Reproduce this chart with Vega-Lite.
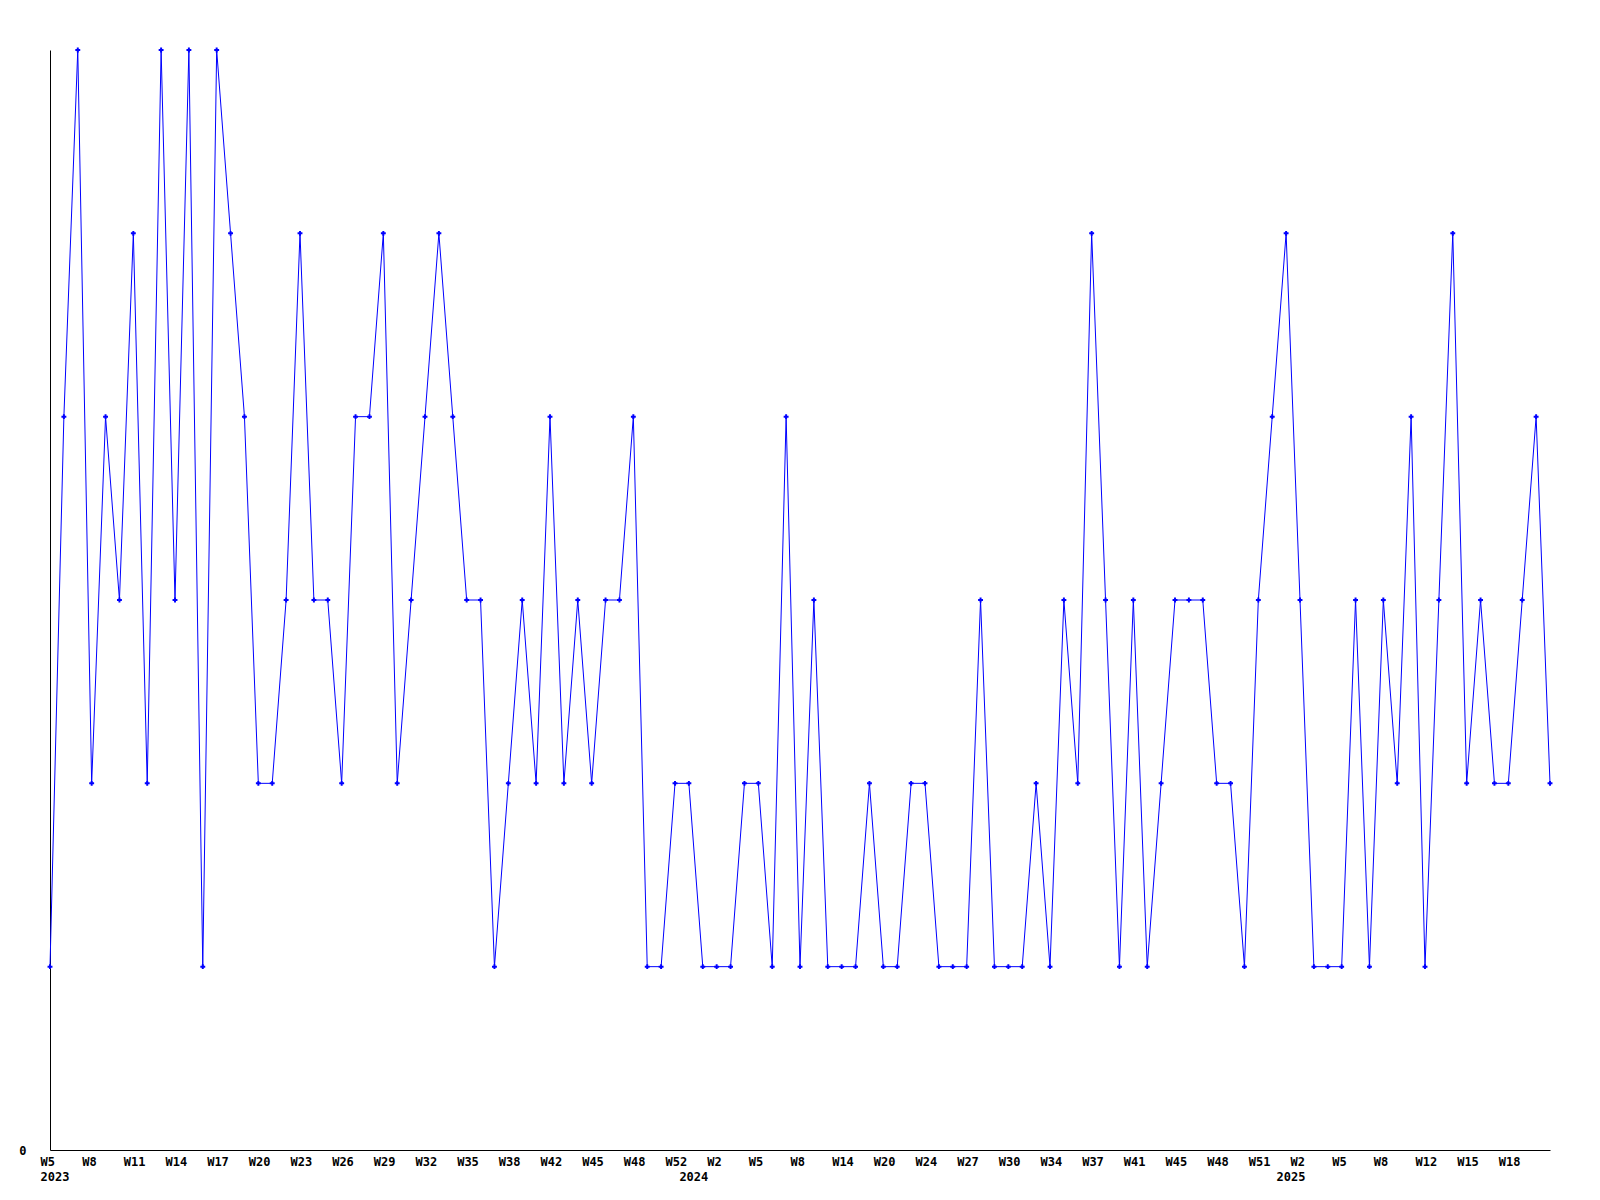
{
  "$schema": "https://vega.github.io/schema/vega-lite/v6.json",
  "autosize": {"type": "none"},
  "padding": {"left": 50, "top": 50, "right": 50, "bottom": 50},
  "width": 1500,
  "height": 1100,
  "background": "white",
  "config": {"view": {"stroke": null}},
  "data": {"values": [
    {"week": "2023-W05", "count": 1}, {"week": "2023-W06", "count": 4}, {"week": "2023-W07", "count": 6}, {"week": "2023-W08", "count": 2},
    {"week": "2023-W09", "count": 4}, {"week": "2023-W10", "count": 3}, {"week": "2023-W11", "count": 5}, {"week": "2023-W12", "count": 2},
    {"week": "2023-W13", "count": 6}, {"week": "2023-W14", "count": 3}, {"week": "2023-W15", "count": 6}, {"week": "2023-W16", "count": 1},
    {"week": "2023-W17", "count": 6}, {"week": "2023-W18", "count": 5}, {"week": "2023-W19", "count": 4}, {"week": "2023-W20", "count": 2},
    {"week": "2023-W21", "count": 2}, {"week": "2023-W22", "count": 3}, {"week": "2023-W23", "count": 5}, {"week": "2023-W24", "count": 3},
    {"week": "2023-W25", "count": 3}, {"week": "2023-W26", "count": 2}, {"week": "2023-W27", "count": 4}, {"week": "2023-W28", "count": 4},
    {"week": "2023-W29", "count": 5}, {"week": "2023-W30", "count": 2}, {"week": "2023-W31", "count": 3}, {"week": "2023-W32", "count": 4},
    {"week": "2023-W33", "count": 5}, {"week": "2023-W34", "count": 4}, {"week": "2023-W35", "count": 3}, {"week": "2023-W36", "count": 3},
    {"week": "2023-W37", "count": 1}, {"week": "2023-W38", "count": 2}, {"week": "2023-W39", "count": 3}, {"week": "2023-W40", "count": 2},
    {"week": "2023-W42", "count": 4}, {"week": "2023-W43", "count": 2}, {"week": "2023-W44", "count": 3}, {"week": "2023-W45", "count": 2},
    {"week": "2023-W46", "count": 3}, {"week": "2023-W47", "count": 3}, {"week": "2023-W48", "count": 4}, {"week": "2023-W49", "count": 1},
    {"week": "2023-W50", "count": 1}, {"week": "2023-W52", "count": 2}, {"week": "2024-W00", "count": 2}, {"week": "2024-W01", "count": 1},
    {"week": "2024-W02", "count": 1}, {"week": "2024-W03", "count": 1}, {"week": "2024-W04", "count": 2}, {"week": "2024-W05", "count": 2},
    {"week": "2024-W06", "count": 1}, {"week": "2024-W07", "count": 4}, {"week": "2024-W08", "count": 1}, {"week": "2024-W10", "count": 3},
    {"week": "2024-W12", "count": 1}, {"week": "2024-W14", "count": 1}, {"week": "2024-W16", "count": 1}, {"week": "2024-W18", "count": 2},
    {"week": "2024-W20", "count": 1}, {"week": "2024-W21", "count": 1}, {"week": "2024-W23", "count": 2}, {"week": "2024-W24", "count": 2},
    {"week": "2024-W25", "count": 1}, {"week": "2024-W26", "count": 1}, {"week": "2024-W27", "count": 1}, {"week": "2024-W28", "count": 3},
    {"week": "2024-W29", "count": 1}, {"week": "2024-W30", "count": 1}, {"week": "2024-W31", "count": 1}, {"week": "2024-W32", "count": 2},
    {"week": "2024-W34", "count": 1}, {"week": "2024-W35", "count": 3}, {"week": "2024-W36", "count": 2}, {"week": "2024-W37", "count": 5},
    {"week": "2024-W38", "count": 3}, {"week": "2024-W40", "count": 1}, {"week": "2024-W41", "count": 3}, {"week": "2024-W42", "count": 1},
    {"week": "2024-W43", "count": 2}, {"week": "2024-W45", "count": 3}, {"week": "2024-W46", "count": 3}, {"week": "2024-W47", "count": 3},
    {"week": "2024-W48", "count": 2}, {"week": "2024-W49", "count": 2}, {"week": "2024-W50", "count": 1}, {"week": "2024-W51", "count": 3},
    {"week": "2024-W52", "count": 4}, {"week": "2025-W01", "count": 5}, {"week": "2025-W02", "count": 3}, {"week": "2025-W03", "count": 1},
    {"week": "2025-W04", "count": 1}, {"week": "2025-W05", "count": 1}, {"week": "2025-W06", "count": 3}, {"week": "2025-W07", "count": 1},
    {"week": "2025-W08", "count": 3}, {"week": "2025-W10", "count": 2}, {"week": "2025-W11", "count": 4}, {"week": "2025-W12", "count": 1},
    {"week": "2025-W13", "count": 3}, {"week": "2025-W14", "count": 5}, {"week": "2025-W15", "count": 2}, {"week": "2025-W16", "count": 3},
    {"week": "2025-W17", "count": 2}, {"week": "2025-W18", "count": 2}, {"week": "2025-W19", "count": 3}, {"week": "2025-W20", "count": 4},
    {"week": "2025-W21", "count": 2}
  ]},
  "encoding": {
    "x": {
      "field": "week", "type": "ordinal", "sort": null,
      "scale": {"type": "point", "padding": 0},
      "axis": {
        "title": null, "ticks": false, "grid": false,
        "domainColor": "black", "domainWidth": 1,
        "labelAngle": 0, "labelAlign": "left", "labelOffset": -10, "labelBaseline": "top",
        "labelFont": "DejaVu Sans Mono", "labelFontWeight": "bold", "labelFontSize": 12,
        "labelColor": "black", "labelPadding": 6, "labelLineHeight": 15,
        "labelOverlap": false, "labelBound": false, "labelFlush": false,
        "values": ["2023-W05", "2023-W08", "2023-W11", "2023-W14", "2023-W17", "2023-W20", "2023-W23", "2023-W26", "2023-W29", "2023-W32", "2023-W35", "2023-W38", "2023-W42", "2023-W45", "2023-W48", "2023-W52", "2024-W00", "2024-W02", "2024-W05", "2024-W08", "2024-W14", "2024-W20", "2024-W24", "2024-W27", "2024-W30", "2024-W34", "2024-W37", "2024-W41", "2024-W45", "2024-W48", "2024-W51", "2025-W01", "2025-W02", "2025-W05", "2025-W08", "2025-W12", "2025-W15", "2025-W18"],
        "labelExpr": "datum.value == '2023-W05' ? ['W5', '2023'] : datum.value == '2024-W00' ? [' ', '2024'] : datum.value == '2025-W01' ? [' ', '2025'] : 'W' + toNumber(substring(datum.value, 6))"
      }
    },
    "y": {
      "field": "count", "type": "quantitative",
      "scale": {"domain": [0, 6], "nice": false, "zero": true},
      "axis": {
        "title": null, "ticks": false, "grid": false, "values": [0],
        "domainColor": "black", "domainWidth": 1,
        "labelFont": "DejaVu Sans Mono", "labelFontWeight": "bold", "labelFontSize": 12,
        "labelColor": "black", "labelPadding": 24
      }
    }
  },
  "layer": [
    {"mark": {"type": "line", "color": "#0000FF", "strokeWidth": 1}},
    {"mark": {"type": "point", "shape": "cross", "size": 24, "filled": true, "color": "#0000FF", "opacity": 1}}
  ]
}
